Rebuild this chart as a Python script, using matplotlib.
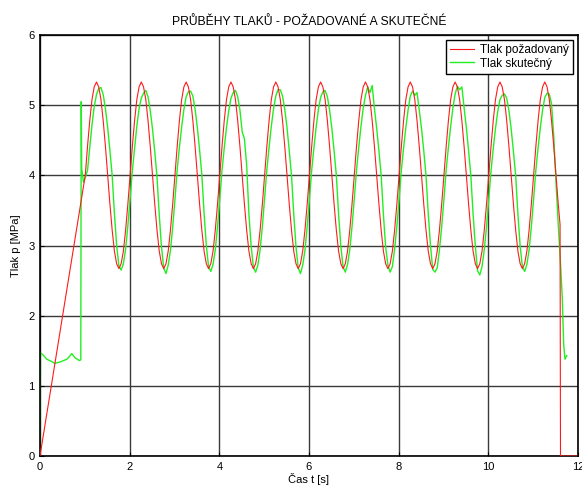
import matplotlib.pyplot as plt
import numpy as np

plt.rcParams['font.family'] = ['Liberation Sans', 'DejaVu Sans']

# sampled oscillation part: starts at osc_start, one value every dt seconds
dt = 0.05
osc_start = 1.01

# required pressure (Tlak požadovaný)
red_ramp_t = [0.0]
red_ramp_p = [0.0]
red_osc = [
    4.00, 4.41, 4.78, 5.08, 5.26, 5.33, 5.26, 5.08, 4.78, 4.41, 4.00, 3.59, 3.22, 2.92, 2.74, 2.67, 2.74, 2.92, 3.22, 3.59,
    4.00, 4.41, 4.78, 5.08, 5.26, 5.33, 5.26, 5.08, 4.78, 4.41, 4.00, 3.59, 3.22, 2.92, 2.74, 2.67, 2.74, 2.92, 3.22, 3.59,
    4.00, 4.41, 4.78, 5.08, 5.26, 5.33, 5.26, 5.08, 4.78, 4.41, 4.00, 3.59, 3.22, 2.92, 2.74, 2.67, 2.74, 2.92, 3.22, 3.59,
    4.00, 4.41, 4.78, 5.08, 5.26, 5.33, 5.26, 5.08, 4.78, 4.41, 4.00, 3.59, 3.22, 2.92, 2.74, 2.67, 2.74, 2.92, 3.22, 3.59,
    4.00, 4.41, 4.78, 5.08, 5.26, 5.33, 5.26, 5.08, 4.78, 4.41, 4.00, 3.59, 3.22, 2.92, 2.74, 2.67, 2.74, 2.92, 3.22, 3.59,
    4.00, 4.41, 4.78, 5.08, 5.26, 5.33, 5.26, 5.08, 4.78, 4.41, 4.00, 3.59, 3.22, 2.92, 2.74, 2.67, 2.74, 2.92, 3.22, 3.59,
    4.00, 4.41, 4.78, 5.08, 5.26, 5.33, 5.26, 5.08, 4.78, 4.41, 4.00, 3.59, 3.22, 2.92, 2.74, 2.67, 2.74, 2.92, 3.22, 3.59,
    4.00, 4.41, 4.78, 5.08, 5.26, 5.33, 5.26, 5.08, 4.78, 4.41, 4.00, 3.59, 3.22, 2.92, 2.74, 2.67, 2.74, 2.92, 3.22, 3.59,
    4.00, 4.41, 4.78, 5.08, 5.26, 5.33, 5.26, 5.08, 4.78, 4.41, 4.00, 3.59, 3.22, 2.92, 2.74, 2.67, 2.74, 2.92, 3.22, 3.59,
    4.00, 4.41, 4.78, 5.08, 5.26, 5.33, 5.26, 5.08, 4.78, 4.41, 4.00, 3.59, 3.22, 2.92, 2.74, 2.67, 2.74, 2.92, 3.22, 3.59,
    4.00, 4.41, 4.78, 5.08, 5.26, 5.33, 5.26, 5.08, 4.78, 4.41, 4.00, 3.59,
]
red_end_t = [11.60, 11.61, 11.98]
red_end_p = [3.30, 0.0, 0.0]

# measured pressure (Tlak skutečný)
green_start_t = [0.0, 0.01, 0.07, 0.15, 0.25, 0.33, 0.45, 0.60, 0.66, 0.71, 0.78, 0.88, 0.91, 0.92, 0.93, 0.97]
green_start_p = [0.0, 1.47, 1.44, 1.38, 1.35, 1.32, 1.34, 1.38, 1.42, 1.46, 1.40, 1.36, 1.37, 5.05, 4.10, 3.90]
green_osc = [
    3.97, 4.07, 4.40, 4.72, 4.98, 5.15, 5.24, 5.25, 5.15, 4.95, 4.68, 4.35, 4.00, 3.46, 3.00, 2.71, 2.65, 2.74, 2.95, 3.28,
    3.66, 4.06, 4.38, 4.70, 4.95, 5.10, 5.17, 5.21, 5.12, 4.92, 4.66, 4.34, 3.98, 3.44, 2.98, 2.68, 2.60, 2.72, 2.93, 3.26,
    3.65, 4.08, 4.40, 4.69, 4.94, 5.12, 5.19, 5.20, 5.13, 4.94, 4.68, 4.36, 4.01, 3.46, 3.00, 2.70, 2.63, 2.73, 2.94, 3.27,
    3.66, 4.07, 4.39, 4.68, 4.92, 5.10, 5.18, 5.21, 5.12, 4.93, 4.62, 4.52, 4.15, 3.45, 2.99, 2.69, 2.62, 2.72, 2.94, 3.27,
    3.67, 4.08, 4.40, 4.70, 4.95, 5.13, 5.22, 5.22, 5.13, 4.94, 4.68, 4.35, 4.00, 3.45, 2.98, 2.68, 2.60, 2.72, 2.93, 3.27,
    3.66, 4.07, 4.39, 4.69, 4.94, 5.11, 5.19, 5.21, 5.12, 4.93, 4.67, 4.35, 4.00, 3.45, 2.99, 2.70, 2.62, 2.73, 2.94, 3.27,
    3.66, 4.07, 4.40, 4.70, 4.96, 5.14, 5.26, 5.18, 5.28, 4.95, 4.67, 4.35, 4.00, 3.44, 2.98, 2.72, 2.62, 2.70, 2.95, 3.27,
    3.66, 4.07, 4.39, 4.68, 4.93, 5.13, 5.20, 5.14, 5.18, 4.92, 4.67, 4.35, 4.00, 3.46, 3.00, 2.66, 2.62, 2.68, 2.94, 3.27,
    3.66, 4.08, 4.40, 4.70, 4.96, 5.16, 5.27, 5.22, 5.26, 4.96, 4.68, 4.35, 4.00, 3.45, 2.99, 2.64, 2.58, 2.70, 2.94, 3.27,
    3.66, 4.06, 4.38, 4.67, 4.91, 5.08, 5.14, 5.16, 5.10, 4.92, 4.66, 4.34, 4.00, 3.45, 2.99, 2.70, 2.63, 2.73, 2.94, 3.27,
    3.66, 4.07, 4.39, 4.68, 4.93, 5.11, 5.17, 5.16, 5.02, 4.55, 3.90, 3.30,
]
green_end_t = [11.61, 11.65, 11.68, 11.71, 11.75]
green_end_p = [2.75, 2.25, 1.60, 1.38, 1.43]


def main():
    t_osc = osc_start + dt * np.arange(len(red_osc))
    red_t = np.concatenate((red_ramp_t, t_osc, red_end_t))
    red_p = np.concatenate((red_ramp_p, red_osc, red_end_p))
    green_t = np.concatenate((green_start_t, t_osc[:len(green_osc)], green_end_t))
    green_p = np.concatenate((green_start_p, green_osc, green_end_p))

    fig = plt.figure(figsize=(5.82, 4.86), dpi=100)
    ax = fig.add_axes([0.0687, 0.0617, 0.9244, 0.8663])

    ax.plot(red_t, red_p, color='#ff1a1a', lw=0.8, label='Tlak požadovaný', zorder=3)
    ax.plot(green_t, green_p, color='#22ee22', lw=1.0, label='Tlak skutečný', zorder=2)

    ax.set_xlim(0, 12)
    ax.set_ylim(0, 6)
    ax.set_xticks(range(0, 13, 2))
    ax.set_yticks(range(0, 7))
    ax.grid(True, color='#3a3a3a', lw=1.0, ls='-')
    ax.set_axisbelow(True)
    ax.tick_params(direction='in', length=3, labelsize=8, pad=4)
    for s in ax.spines.values():
        s.set_linewidth(1.2)
        s.set_color('black')

    ax.set_title('PRŮBĚHY TLAKŮ - POŽADOVANÉ A SKUTEČNÉ', fontsize=8.7, pad=7.5)
    ax.set_xlabel('Čas t [s]', fontsize=8, labelpad=1)
    ax.set_ylabel('Tlak p [MPa]', fontsize=8, labelpad=5)

    leg = ax.legend(loc='upper right', fontsize=8.5, fancybox=False, framealpha=1,
                    edgecolor='black', handlelength=2.0, handletextpad=0.55,
                    borderaxespad=0.4, borderpad=0.35, labelspacing=0.15)
    leg.get_frame().set_linewidth(1.0)

    fig.savefig('out.png', dpi=100)


if __name__ == "__main__":
    main()
